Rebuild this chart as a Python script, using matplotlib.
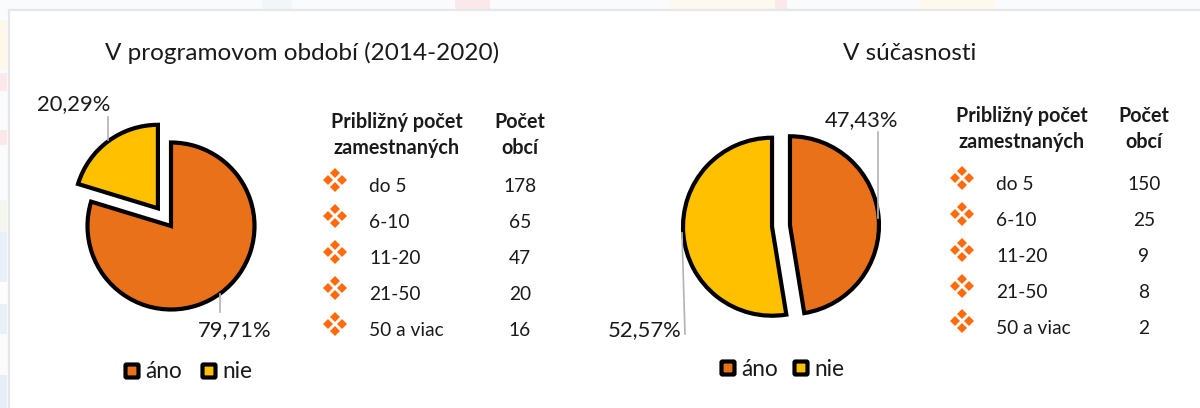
"""
Zamestnanost v obciach - dva kolacove grafy s tabulkami
"""

import matplotlib
matplotlib.use('Agg')
import matplotlib.pyplot as plt
import matplotlib.patches as patches

plt.rcParams['font.family'] = ['Lato', 'DejaVu Sans']

H = 408

# data
labels = ['áno', 'nie']
period_values = [79.71, 20.29]
now_values = [47.43, 52.57]
period_texts = ['79,71%', '20,29%']
now_texts = ['47,43%', '52,57%']
ranges = ['do 5', '6-10', '11-20', '21-50', '50 a viac']
period_counts = [178, 65, 47, 20, 16]
now_counts = [150, 25, 9, 8, 2]

ORANGE = '#E97119'
YELLOW = '#FFC000'
BULLET = '#FF6A0D'
TEXT = '#1a1a1a'
LEADER = '#b3b3b3'


def Y(py):
    # suradnice citane z obrazka (y ide zhora)
    return H - py


fig = plt.figure(figsize=(12, 4.08), dpi=100)
ax = fig.add_axes([0, 0, 1, 1])

# bledy podklad okolo panelu
ax.add_patch(patches.Rectangle((0, 0), 1200, H, facecolor='#f9fbfc', edgecolor='none', zorder=0))
strips = [
    (262, 0, 30, 9, '#f1f7f8'), (455, 0, 35, 9, '#fbe8ea'), (670, 0, 105, 9, '#fdf8f0'),
    (775, 0, 12, 9, '#fbe8ea'), (920, 0, 75, 9, '#fdf9ec'),
    (0, 20, 7, 50, '#fdf9ea'), (0, 73, 7, 18, '#fbe8ea'), (0, 130, 7, 15, '#fbe8ea'),
    (0, 200, 7, 32, '#f4f7ef'), (0, 232, 7, 50, '#e9f0f8'), (0, 282, 7, 22, '#fdfdfd'),
    (0, 304, 7, 30, '#e9f0f8'), (0, 335, 7, 40, '#fbfbfb'), (0, 375, 7, 33, '#e6eef6'),
]
for x, y, w, h, c in strips:
    ax.add_patch(patches.Rectangle((x, Y(y + h)), w, h, facecolor=c, edgecolor='none', zorder=0))
ax.add_patch(patches.Rectangle((8.5, -5), 1300, Y(9.5) + 5, facecolor='white',
                               edgecolor='#e6e7e9', linewidth=1.6, zorder=1))


def draw_pie(values, center, radius, explode):
    wedges, _ = ax.pie(values, colors=[ORANGE, YELLOW], startangle=90, counterclock=False,
                       center=(center[0], Y(center[1])), radius=radius, explode=explode,
                       frame=True,
                       wedgeprops=dict(edgecolor='black', linewidth=3.0, joinstyle='miter'))
    for w in wedges:
        w.set_zorder(3)


def draw_bullet(x, y):
    # styri kosoststvorce ako odrazka z Wingdings
    ax.plot([x - 7, x + 7, x, x], [Y(y), Y(y), Y(y - 7), Y(y + 7)], linestyle='none',
            marker='D', markersize=4.6, color=BULLET, markeredgewidth=0, zorder=5)


def draw_table(head_x, count_x, label_x, bullet_x, head_y, row_ys, bullet_ys, counts):
    ax.text(head_x, Y(head_y[0]), 'Približný počet', ha='center', va='center',
            fontsize=14.2, fontweight='bold', color=TEXT, zorder=5)
    ax.text(head_x, Y(head_y[1]), 'zamestnaných', ha='center', va='center',
            fontsize=14.2, fontweight='bold', color=TEXT, zorder=5)
    ax.text(count_x, Y(head_y[0]), 'Počet', ha='center', va='center',
            fontsize=14.2, fontweight='bold', color=TEXT, zorder=5)
    ax.text(count_x, Y(head_y[1]), 'obcí', ha='center', va='center',
            fontsize=14.2, fontweight='bold', color=TEXT, zorder=5)
    for i, name in enumerate(ranges):
        draw_bullet(bullet_x, bullet_ys[i])
        ax.text(label_x, Y(row_ys[i] + 1.5), name, ha='left', va='center',
                fontsize=13.8, color=TEXT, zorder=5)
        ax.text(count_x, Y(row_ys[i] + 1.5), str(counts[i]), ha='center', va='center',
                fontsize=13.8, color=TEXT, zorder=5)


def draw_legend(x0, y0):
    for x, name, c in zip(x0, labels, [ORANGE, YELLOW]):
        ax.add_patch(patches.FancyBboxPatch((x + 1.5, Y(y0 + 6.5)), 13, 13,
                                            boxstyle='round,pad=0,rounding_size=1',
                                            facecolor=c, edgecolor='black', linewidth=3.0, zorder=5))
        ax.text(x + 21, Y(y0 + 1), name, ha='left', va='center', fontsize=16.3, color=TEXT, zorder=5)


# titulky
ax.text(302, Y(53), 'V programovom období (2014-2020)', ha='center', va='center',
        fontsize=17.5, color=TEXT, zorder=5)
ax.text(910, Y(53), 'V súčasnosti', ha='center', va='center', fontsize=17.5, color=TEXT, zorder=5)

# kolace
draw_pie(period_values, (171, 226), 83.5, [0, 22])
draw_pie(now_values, (781, 226), 89, [9, 9])

# vodiace ciary
leaders = [
    ((108, 108), (117, 140)), ((220, 220), (294, 312)),
    ((878, 878), (132, 218)), ((682, 685), (233, 334)),
]
for xs, ys in leaders:
    ax.plot(xs, [Y(v) for v in ys], color=LEADER, linewidth=1.2, zorder=4)

ax.text(74, Y(104), period_texts[1], ha='center', va='center', fontsize=15.8, color=TEXT, zorder=5)
ax.text(235, Y(330), period_texts[0], ha='center', va='center', fontsize=15.8, color=TEXT, zorder=5)
ax.text(862, Y(120), now_texts[0], ha='center', va='center', fontsize=15.8, color=TEXT, zorder=5)
ax.text(645, Y(330), now_texts[1], ha='center', va='center', fontsize=15.8, color=TEXT, zorder=5)

# tabulky
draw_table(397, 520, 369, 335, (122, 148), [185, 221, 257, 293, 329],
           [180, 216, 252, 288, 324], period_counts)
draw_table(1022, 1144, 996, 962, (116, 142), [183, 219, 255, 291, 327],
           [178, 214, 250, 286, 321], now_counts)

# legendy
draw_legend((124, 201), 371)
draw_legend((720, 793), 368)

ax.set_xlim(0, 1200)
ax.set_ylim(0, H)
ax.set_aspect('auto')
ax.axis('off')

fig.savefig('out.png', dpi=100)
